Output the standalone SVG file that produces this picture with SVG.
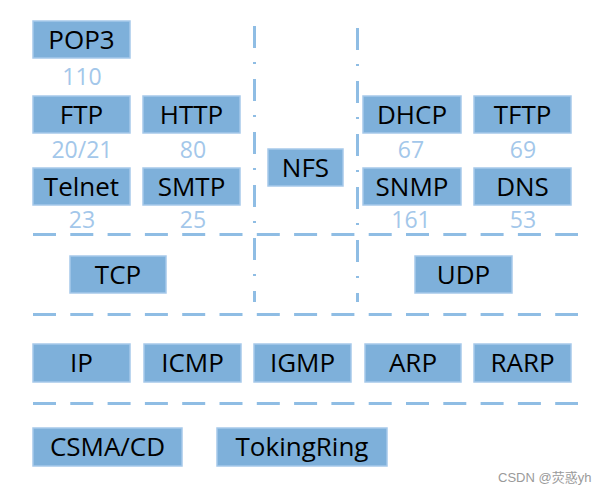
<svg xmlns="http://www.w3.org/2000/svg" width="604" height="490" viewBox="0 0 604 490">
<style>
.box{fill:#7eb0da;stroke:#a6c9ea;stroke-width:1.5}
.lbl{font-family:"Open Sans","Noto Sans",sans-serif;font-size:26px;fill:#000;text-anchor:middle}
.num{font-family:"Open Sans","Noto Sans",sans-serif;font-size:23px;fill:#a3c7ea;text-anchor:middle}
.h{stroke:#8fbde4;stroke-width:3;stroke-dasharray:23 14.3;fill:none}
.v{stroke:#8fbde4;stroke-width:3;stroke-dasharray:22 14 2 15;fill:none}
.wm{font-family:"Liberation Sans","Noto Sans CJK SC",sans-serif;font-size:13px;fill:#9a9a9a}
</style>
<rect width="604" height="490" fill="#fff"/>
<g id="connectors">
<line class="h" x1="33" y1="234.5" x2="578" y2="234.5"/>
<line class="h" x1="33" y1="314.5" x2="578" y2="314.5"/>
<line class="h" x1="33" y1="403.5" x2="578" y2="403.5"/>
<line class="v" x1="254.5" y1="26" x2="254.5" y2="302"/>
<line class="v" x1="357.5" y1="28" x2="357.5" y2="302"/>
</g>
<g id="POP3"><rect class="box" x="33" y="21" width="97" height="37"/><text class="lbl" x="81.5" y="48.5">POP3</text></g>
<text class="num" x="82" y="85">110</text>
<g id="FTP"><rect class="box" x="33" y="96" width="97" height="37"/><text class="lbl" x="81.5" y="123.5">FTP</text></g>
<text class="num" x="82" y="158">20/21</text>
<g id="HTTP"><rect class="box" x="143" y="96" width="97" height="37"/><text class="lbl" x="191.5" y="123.5">HTTP</text></g>
<text class="num" x="193" y="158">80</text>
<g id="Telnet"><rect class="box" x="33" y="168" width="97" height="37"/><text class="lbl" x="81.5" y="195.5">Telnet</text></g>
<text class="num" x="82" y="228">23</text>
<g id="SMTP"><rect class="box" x="143" y="168" width="97" height="37"/><text class="lbl" x="191.5" y="195.5">SMTP</text></g>
<text class="num" x="193" y="228">25</text>
<g id="NFS"><rect class="box" x="268" y="149" width="75" height="37"/><text class="lbl" x="305.5" y="176.5">NFS</text></g>
<g id="DHCP"><rect class="box" x="363" y="96" width="98" height="37"/><text class="lbl" x="412" y="123.5">DHCP</text></g>
<text class="num" x="411" y="158">67</text>
<g id="TFTP"><rect class="box" x="474" y="96" width="97" height="37"/><text class="lbl" x="522.5" y="123.5">TFTP</text></g>
<text class="num" x="523" y="158">69</text>
<g id="SNMP"><rect class="box" x="363" y="168" width="98" height="37"/><text class="lbl" x="412" y="195.5">SNMP</text></g>
<text class="num" x="411" y="228">161</text>
<g id="DNS"><rect class="box" x="474" y="168" width="97" height="37"/><text class="lbl" x="522.5" y="195.5">DNS</text></g>
<text class="num" x="523" y="228">53</text>
<g id="TCP"><rect class="box" x="70" y="256" width="96" height="37"/><text class="lbl" x="118" y="283.5">TCP</text></g>
<g id="UDP"><rect class="box" x="415" y="256" width="97" height="37"/><text class="lbl" x="463.5" y="283.5">UDP</text></g>
<g id="IP"><rect class="box" x="33" y="344" width="97" height="38"/><text class="lbl" x="81.5" y="372">IP</text></g>
<g id="ICMP"><rect class="box" x="144" y="344" width="97" height="38"/><text class="lbl" x="192.5" y="372">ICMP</text></g>
<g id="IGMP"><rect class="box" x="254" y="344" width="97" height="38"/><text class="lbl" x="302.5" y="372">IGMP</text></g>
<g id="ARP"><rect class="box" x="365" y="344" width="96" height="38"/><text class="lbl" x="413" y="372">ARP</text></g>
<g id="RARP"><rect class="box" x="474" y="344" width="97" height="38"/><text class="lbl" x="522.5" y="372">RARP</text></g>
<g id="CSMA_CD"><rect class="box" x="33" y="428" width="149" height="38"/><text class="lbl" x="107.5" y="456">CSMA/CD</text></g>
<g id="TokingRing"><rect class="box" x="217" y="428" width="170" height="38"/><text class="lbl" x="302" y="456">TokingRing</text></g>
<text class="wm" x="498" y="482">CSDN @荧惑yh</text>
</svg>
